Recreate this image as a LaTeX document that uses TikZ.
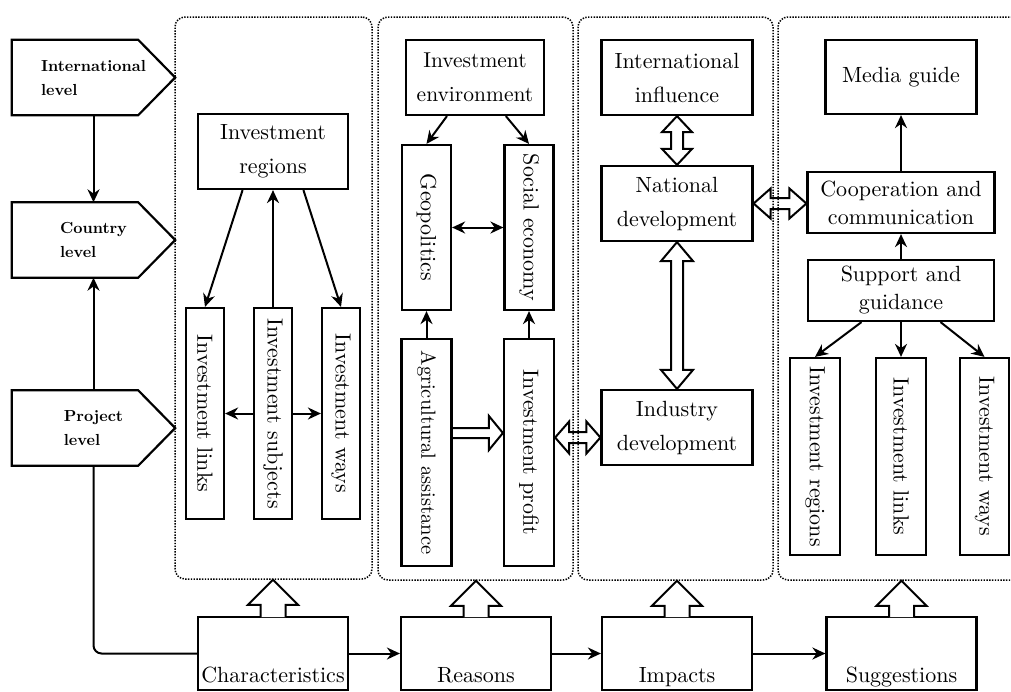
\documentclass[tikz,border=0pt]{standalone}
\usepackage{graphicx}
\usepackage{fontspec}
\setmainfont{lmroman10-regular.otf}[BoldFont=lmroman10-bold.otf]
\usetikzlibrary{arrows.meta,calc}
\tikzset{
  box/.style={draw, line width=2.2pt, inner sep=0pt, align=center, font=\fontsize{22}{34}\selectfont},
  tight/.style={font=\fontsize{22}{28}\selectfont},
  lvl/.style={minimum width=163pt, minimum height=75pt, inner sep=0pt, align=left, font=\fontsize{16}{24}\selectfont\bfseries},
  lvlline/.style={line width=2.2pt, line join=miter},
  panel/.style={draw, line width=1.5pt, dash pattern=on 1.4pt off 1.4pt, rounded corners=10pt, inner sep=0pt},
  arr/.style={line width=2pt, -{Stealth[length=13pt,width=12pt]}},
  darr/.style={line width=2pt, {Stealth[length=13pt,width=12pt]}-{Stealth[length=13pt,width=12pt]}},
  hollow/.style={line width=2pt, line join=miter},
  bottombox/.style={box, minimum width=150pt, minimum height=73pt, text height=57pt, text depth=0pt},
}
% hollow arrows: [style]{from}{to}{shaft half}{head half}{head length}
\newcommand{\hollowUp}[6][]{%
  \draw[hollow,#1] let \p1=(#2), \p2=(#3) in
    (\x1-#4,\y1-1.2pt) -- (\x1-#4,\y2-#6) -- (\x1-#5,\y2-#6) -- (\x1,\y2) --
    (\x1+#5,\y2-#6) -- (\x1+#4,\y2-#6) -- (\x1+#4,\y1-1.2pt);}
\newcommand{\hollowRight}[6][]{%
  \draw[hollow,#1] let \p1=(#2), \p2=(#3) in
    (\x1,\y1+#4) -- (\x2-#6,\y1+#4) -- (\x2-#6,\y1+#5) -- (\x2,\y1) --
    (\x2-#6,\y1-#5) -- (\x2-#6,\y1-#4) -- (\x1,\y1-#4);}
\newcommand{\hollowDoubleH}[6][]{%
  \draw[hollow,#1] let \p1=(#2), \p2=(#3) in
    (\x1,\y1) -- (\x1+#6,\y1+#5) -- (\x1+#6,\y1+#4) -- (\x2-#6,\y1+#4) --
    (\x2-#6,\y1+#5) -- (\x2,\y1) -- (\x2-#6,\y1-#5) -- (\x2-#6,\y1-#4) --
    (\x1+#6,\y1-#4) -- (\x1+#6,\y1-#5) -- cycle;}
\newcommand{\hollowDoubleV}[6][]{%
  \draw[hollow,#1] let \p1=(#2), \p2=(#3) in
    (\x1,\y1) -- (\x1+#5,\y1-#6) -- (\x1+#4,\y1-#6) -- (\x1+#4,\y2+#6) --
    (\x1+#5,\y2+#6) -- (\x1,\y2) -- (\x1-#5,\y2+#6) -- (\x1-#4,\y2+#6) --
    (\x1-#4,\y1-#6) -- (\x1-#5,\y1-#6) -- cycle;}
\begin{document}
\begin{tikzpicture}[x=1pt,y=-1pt]
\useasboundingbox (0,0) rectangle (1011,691);
% panels
\node[panel, minimum width=197pt, minimum height=562pt] (p1) at (273.5,298) {};
\node[panel, minimum width=195pt, minimum height=563pt] (p2) at (475.5,298.5) {};
\node[panel, minimum width=195pt, minimum height=563pt] (p3) at (675.5,298.5) {};
\node[panel, minimum width=247pt, minimum height=563pt] (p4) at (901.5,298.5) {};
% left levels (pentagons)
\node[lvl] (intl) at (93.5,77.5) {International\\level};
\node[lvl] (country) at (93.5,240) {Country\\level};
\node[lvl] (project) at (93.5,428) {Project\\level};
\foreach \n in {intl,country,project}
  \draw[lvlline] (\n.north west) -- ($(\n.north east)+(-37,0)$) -- (\n.east)
    -- ($(\n.south east)+(-37,0)$) -- (\n.south west) -- cycle;
\draw[arr] (intl.south) -- (country.north);
\draw[arr] (project.north) -- (country.south);
% panel 1
\node[box, minimum width=150pt, minimum height=75pt] (reg1) at (273,151.5) {Investment\\regions};
\node[box, minimum width=38pt, minimum height=211pt] (links1) at (205,413.5) {\rotatebox{-90}{Investment links}};
\node[box, minimum width=38pt, minimum height=211pt] (subj1) at (273,413.5) {\rotatebox{-90}{Investment subjects}};
\node[box, minimum width=38pt, minimum height=211pt] (ways1) at (341,413.5) {\rotatebox{-90}{Investment ways}};
\draw[arr] ($(reg1.south west)!0.3!(reg1.south east)$) -- (links1.north);
\draw[arr] (subj1.north) -- (reg1.south);
\draw[arr] ($(reg1.south west)!0.7!(reg1.south east)$) -- (ways1.north);
\draw[arr] (subj1.west) -- (links1.east);
\draw[arr] (subj1.east) -- (ways1.west);
% panel 2
\node[box, minimum width=138pt, minimum height=75pt, font=\fontsize{21.5}{34}\selectfont] (env) at (475,77.5) {Investment\\environment};
\node[box, minimum width=49pt, minimum height=165pt] (geo) at (426.5,227.5) {\rotatebox{-90}{Geopolitics}};
\node[box, minimum width=49pt, minimum height=165pt] (soc) at (529,227.5) {\rotatebox{-90}{Social economy}};
\node[box, minimum width=50pt, minimum height=227pt, font=\fontsize{20.5}{26}\selectfont] (agri) at (426.5,452.5) {\rotatebox{-90}{Agricultural assistance}};
\node[box, minimum width=50pt, minimum height=227pt] (prof) at (529,452.5) {\rotatebox{-90}{Investment profit}};
\draw[arr] ($(env.south west)!0.3!(env.south east)$) -- (geo.north);
\draw[arr] ($(env.south west)!0.72!(env.south east)$) -- (soc.north);
\draw[darr] (geo.east) -- (soc.west);
\draw[arr] (agri.north) -- (geo.south);
\draw[arr] (prof.north) -- (soc.south);
\hollowRight{$(agri.east)+(0,-19.5)$}{prof.west}{5pt}{17pt}{14pt}
% panel 3
\node[box, minimum width=151pt, minimum height=75pt] (infl) at (677,77.5) {International\\influence};
\node[box, minimum width=151pt, minimum height=75pt] (nat) at (677,203.5) {National\\development};
\node[box, minimum width=151pt, minimum height=75pt] (ind) at (677,427.5) {Industry\\development};
\hollowDoubleV{infl.south}{nat.north}{6pt}{15pt}{16pt}
\hollowDoubleV{nat.south}{ind.north}{6pt}{16pt}{19pt}
\hollowDoubleH{$(prof.east)+(0,-15)$}{ind.west}{5.5pt}{16pt}{14pt}
% panel 4
\node[box, minimum width=151pt, minimum height=74pt] (media) at (901,77) {Media guide};
\node[box, tight, minimum width=187pt, minimum height=61pt] (coop) at (901,202.5) {Cooperation and\\communication};
\node[box, tight, minimum width=186pt, minimum height=61pt] (supp) at (901,290.5) {Support and\\guidance};
\node[box, minimum width=50pt, minimum height=197pt] (sreg) at (815,456.5) {\rotatebox{-90}{Investment regions}};
\node[box, minimum width=50pt, minimum height=197pt] (slinks) at (901,456.5) {\rotatebox{-90}{Investment links}};
\node[box, minimum width=49pt, minimum height=197pt] (sways) at (984.5,456.5) {\rotatebox{-90}{Investment ways}};
\hollowDoubleH{nat.east}{coop.west}{5.5pt}{15pt}{17pt}
\draw[arr] (coop.north) -- (media.south);
\draw[arr] (supp.north) -- (coop.south);
\draw[arr] ($(supp.south west)!0.29!(supp.south east)$) -- (sreg.north);
\draw[arr] (supp.south) -- (slinks.north);
\draw[arr] ($(supp.south west)!0.71!(supp.south east)$) -- (sways.north);
% bottom row
\node[bottombox] (char) at (273,653.5) {Characteristics};
\node[bottombox] (reas) at (476,653.5) {Reasons};
\node[bottombox] (imp) at (677,653.5) {Impacts};
\node[bottombox] (sugg) at (901.5,653.5) {Suggestions};
\draw[arr] (char.east) -- (reas.west);
\draw[arr] (reas.east) -- (imp.west);
\draw[arr] (imp.east) -- (sugg.west);
\draw[line width=2pt, rounded corners=8pt] (project.south) |- (char.west);
\hollowUp[fill=white]{char.north}{p1.south}{12.5pt}{25pt}{25pt}
\hollowUp[fill=white]{reas.north}{p2.south}{12.5pt}{25pt}{25pt}
\hollowUp[fill=white]{imp.north}{p3.south}{12.5pt}{25pt}{25pt}
\hollowUp[fill=white]{sugg.north}{p4.south}{12.5pt}{25pt}{25pt}
\end{tikzpicture}
\end{document}
